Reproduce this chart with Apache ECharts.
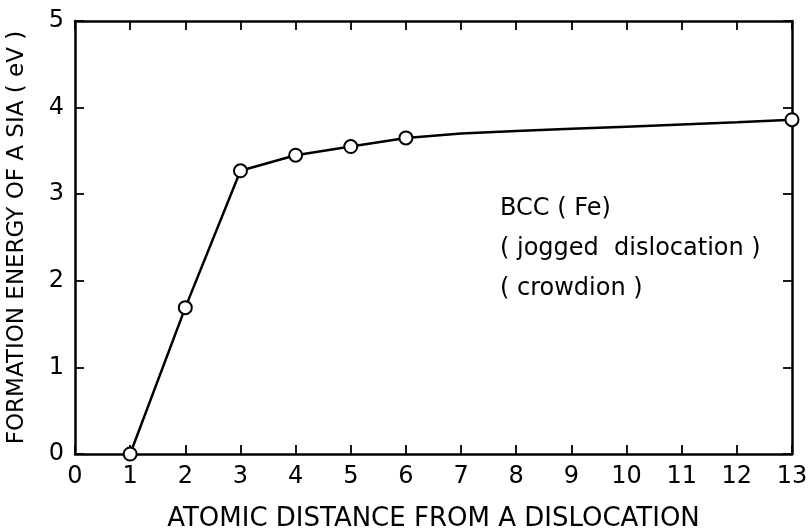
<!DOCTYPE html>
<html><head><meta charset="utf-8">
<script src="https://cdn.jsdelivr.net/npm/echarts@6/dist/echarts.min.js"></script>
<style>html,body{margin:0;padding:0;background:#fff}#c{width:812px;height:530px}</style>
</head><body><div id="c"></div>
<script>
var measuredX = [1, 2, 3, 4, 5, 6, 13];
var measuredY = [0, 1.69, 3.27, 3.45, 3.55, 3.65, 3.86];
var curveX = [1, 2, 3, 4, 5, 6, 7, 8, 9, 10, 11, 12, 13];
var curveY = [0, 1.69, 3.27, 3.45, 3.55, 3.65, 3.70, 3.73, 3.755, 3.78, 3.805, 3.83, 3.86];
var xTicks = ['0','1','2','3','4','5','6','7','8','9','10','11','12','13'];
var yTicks = ['0','1','2','3','4','5'];
var annotation = ['BCC ( Fe)', '( jogged  dislocation )', '( crowdion )'];
var xTitle = 'ATOMIC DISTANCE FROM A DISLOCATION';
var yTitle = 'FORMATION ENERGY OF A SIA ( eV )';

var FONT = 'DejaVu Sans, Verdana, sans-serif';
var chart = echarts.init(document.getElementById('c'));
var axisLine = {show: true, onZero: false, lineStyle: {color: '#000', width: 2.5}};
var tick = {show: true, inside: true, length: 9, lineStyle: {color: '#000', width: 1.8}};
chart.setOption({
  animation: false,
  backgroundColor: '#fff',
  grid: {left: 75, right: 20, top: 21, bottom: 76, containLabel: false, outerBoundsMode: 'none'},
  xAxis: [{
    type: 'value', min: 0, max: 13, interval: 1, position: 'bottom',
    axisLine: axisLine, axisTick: tick, splitLine: {show: false},
    axisLabel: {color: '#000', fontSize: 24, fontFamily: FONT, margin: 11,
      formatter: function (v) { return xTicks[Math.round(v)]; }},
    name: xTitle, nameLocation: 'middle', nameGap: 52,
    nameTextStyle: {color: '#000', fontSize: 26, fontFamily: FONT}
  }, {
    type: 'value', min: 0, max: 13, interval: 1, position: 'top',
    axisLine: axisLine, axisTick: tick, axisLabel: {show: false}, splitLine: {show: false}
  }],
  yAxis: [{
    type: 'value', min: 0, max: 5, interval: 1, position: 'left',
    axisLine: axisLine, axisTick: tick, splitLine: {show: false},
    axisLabel: {color: '#000', fontSize: 24, fontFamily: FONT, margin: 11,
      formatter: function (v) { return yTicks[Math.round(v)]; }},
    name: yTitle, nameLocation: 'middle', nameGap: 46,
    nameTextStyle: {color: '#000', fontSize: 23, fontFamily: FONT}
  }, {
    type: 'value', min: 0, max: 5, interval: 1, position: 'right',
    axisLine: axisLine, axisTick: tick, axisLabel: {show: false}, splitLine: {show: false}
  }],
  series: [{
    type: 'line', xAxisIndex: 0, yAxisIndex: 0, smooth: false, showSymbol: false, symbol: 'none',
    lineStyle: {color: '#000', width: 2.5},
    data: curveX.map(function (x, i) { return [x, curveY[i]]; }),
    z: 2
  }, {
    type: 'scatter', xAxisIndex: 0, yAxisIndex: 0, symbol: 'circle', symbolSize: 13,
    itemStyle: {color: '#fff', borderColor: '#000', borderWidth: 2, opacity: 1},
    data: measuredX.map(function (x, i) { return [x, measuredY[i]]; }),
    clip: false, z: 3
  }],
  graphic: annotation.map(function (t, i) {
    return {type: 'text', left: 500, top: 197 + i * 40,
      style: {text: t, fill: '#000', font: '24px ' + FONT}};
  })
});
</script></body></html>
